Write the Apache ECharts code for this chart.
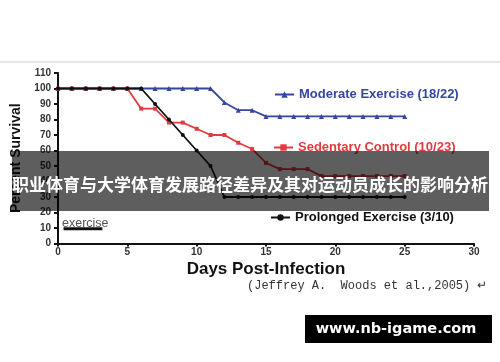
<!DOCTYPE html>
<html><head><meta charset="utf-8">
<script src="https://cdn.jsdelivr.net/npm/echarts@6/dist/echarts.min.js"></script>
<style>html,body{margin:0;padding:0;background:#fff}#c{width:500px;height:362px}</style>
</head><body><div id="c"></div>
<script>
const days = [0,1,2,3,4,5,6,7,8,9,10,11,12,13,14,15,16,17,18,19,20,21,22,23,24,25];
const moderate = [100,100,100,100,100,100,100,100,100,100,100,100,91,86,86,82,82,82,82,82,82,82,82,82,82,82];
const sedentary = [100,100,100,100,100,100,87,87,78,78,74,70,70,65,61,52,48,48,48,43.5,43.5,43.5,43.5,43.5,43.5,43.5];
const prolonged = [100,100,100,100,100,100,100,90,80,70,60,50,30,30,30,30,30,30,30,30,30,30,30,30,30,30];
const exerciseBar = [[0.4, 9.5], [3.2, 9.5]];
const seriesNames = ['Moderate Exercise (18/22)', 'Sedentary Control (10/23)', 'Prolonged Exercise (3/10)'];
const yTicks = {min: 0, max: 110, interval: 10};
const xTicks = {min: 0, max: 30, interval: 5};
const title = '职业体育与大学体育发展路径差异及其对运动员成长的影响分析';
const citation = '(Jeffrey A.  Woods et al.,2005) \u21b5';
const watermark = 'www.nb-igame.com';

const pair = arr => days.map((d, i) => [d, arr[i]]);
const colors = ['#34469e', '#e23b3f', '#111111'];
const chart = echarts.init(document.getElementById('c'));
const legendBase = (name, color, top, left) => ({
  data: [name], top: top, left: left, padding: 0, itemWidth: 19, itemHeight: 8, itemGap: 4,
  textStyle: {color: color, fontSize: 13, fontWeight: 'bold', fontFamily: 'Liberation Sans'}
});
chart.setOption({
  animation: false,
  backgroundColor: '#fff',
  grid: {left: 58, right: 26, top: 73, bottom: 118.5},
  legend: [
    legendBase(seriesNames[0], colors[0], 88, 274),
    legendBase(seriesNames[1], colors[1], 141, 273),
    legendBase(seriesNames[2], colors[2], 211, 270)
  ],
  xAxis: {
    type: 'value', min: xTicks.min, max: xTicks.max, interval: xTicks.interval,
    name: 'Days Post-Infection', nameLocation: 'middle', nameGap: 17,
    nameTextStyle: {fontSize: 17, fontWeight: 'bold', color: '#111', fontFamily: 'Liberation Sans'},
    axisLine: {lineStyle: {color: '#111', width: 2}},
    axisTick: {show: true, length: 3, lineStyle: {color: '#111', width: 2}},
    axisLabel: {margin: 4, fontSize: 10, fontWeight: 'bold', color: '#333', fontFamily: 'Liberation Sans'},
    splitLine: {show: false}
  },
  yAxis: {
    type: 'value', min: yTicks.min, max: yTicks.max, interval: yTicks.interval,
    name: 'Percent Survival', nameLocation: 'middle', nameGap: 32, nameRotate: 90,
    nameTextStyle: {fontSize: 14, fontWeight: 'bold', color: '#111', fontFamily: 'Liberation Sans'},
    axisLine: {show: true, lineStyle: {color: '#111', width: 2}},
    axisTick: {show: true, length: 4, lineStyle: {color: '#111', width: 2}},
    axisLabel: {margin: 7, fontSize: 10, fontWeight: 'bold', color: '#333', fontFamily: 'Liberation Sans'},
    splitLine: {show: false}
  },
  series: [
    {name: seriesNames[0], type: 'line', data: pair(moderate), color: colors[0], symbol: 'triangle', symbolSize: 5,
      lineStyle: {width: 1.8}, itemStyle: {color: colors[0]}, z: 3},
    {name: seriesNames[1], type: 'line', data: pair(sedentary), color: colors[1], symbol: 'rect', symbolSize: 4,
      lineStyle: {width: 1.8}, itemStyle: {color: colors[1]}, z: 4},
    {name: seriesNames[2], type: 'line', data: pair(prolonged), color: colors[2], symbol: 'circle', symbolSize: 4,
      lineStyle: {width: 1.8}, itemStyle: {color: colors[2]}, z: 5},
    {name: 'exercise', type: 'line', data: exerciseBar, symbol: 'none', lineStyle: {width: 3, color: '#111'}, z: 5}
  ],
  graphic: [
    {type: 'line', shape: {x1: 0, y1: 62, x2: 500, y2: 62}, style: {stroke: '#dcdcdc', lineWidth: 1.5}},
    {type: 'text', left: 62, top: 217, style: {text: 'exercise', fontSize: 12.5, fill: '#555', fontFamily: 'Liberation Sans'}},
    {type: 'text', left: 247, top: 280, style: {text: citation, fontSize: 12, fill: '#333', fontFamily: 'Liberation Mono'}},
    {type: 'rect', shape: {x: 12, y: 151, width: 477, height: 60}, style: {fill: 'rgba(0,0,0,0.63)'}, z: 100},
    {type: 'text', x: 250, y: 185, z: 101, style: {text: title, fontSize: 17, fontWeight: 'bold', fill: '#fff',
      fontFamily: 'Noto Sans CJK SC', textAlign: 'center', textVerticalAlign: 'middle'}},
    {type: 'rect', shape: {x: 305, y: 315, width: 187, height: 28}, style: {fill: '#000'}, z: 100},
    {type: 'text', x: 396, y: 329, z: 101, style: {text: watermark, fontSize: 14.5, fontWeight: 'bold', fill: '#fff',
      fontFamily: 'DejaVu Sans', textAlign: 'center', textVerticalAlign: 'middle'}}
  ]
});
</script></body></html>
